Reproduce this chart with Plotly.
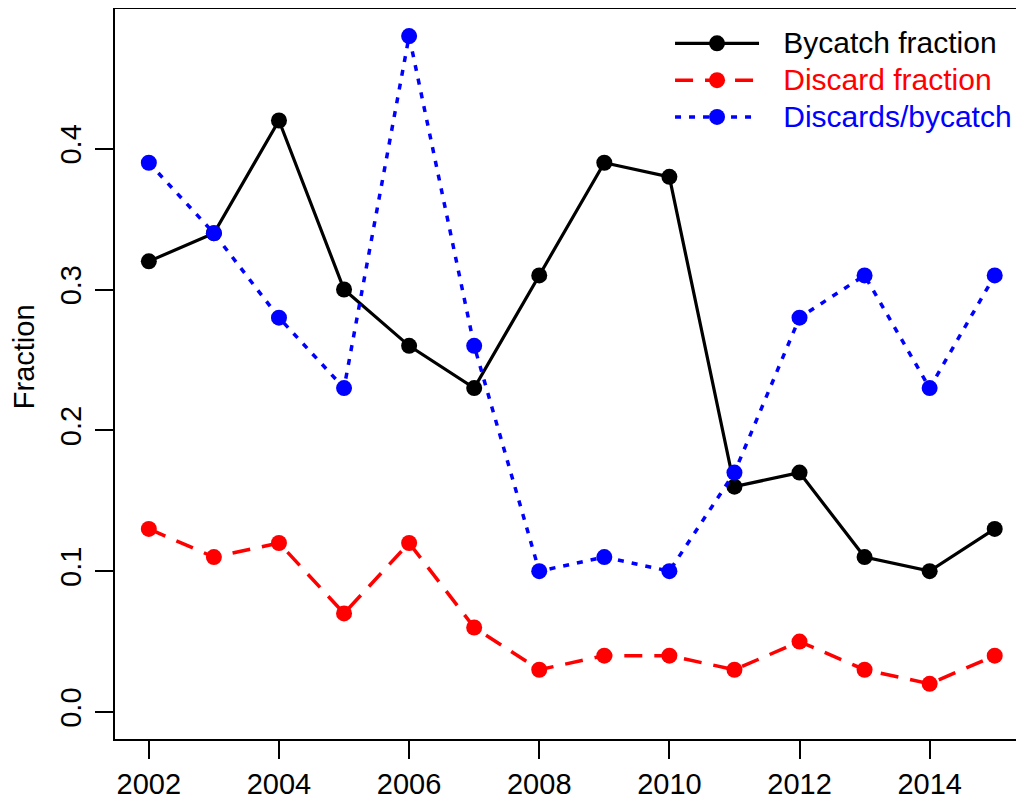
import plotly.graph_objects as go

years = [2002, 2003, 2004, 2005, 2006, 2007, 2008, 2009, 2010, 2011, 2012, 2013, 2014, 2015]
bycatch_fraction = [0.32, 0.34, 0.42, 0.30, 0.26, 0.23, 0.31, 0.39, 0.38, 0.16, 0.17, 0.11, 0.10, 0.13]
discard_fraction = [0.13, 0.11, 0.12, 0.07, 0.12, 0.06, 0.03, 0.04, 0.04, 0.03, 0.05, 0.03, 0.02, 0.04]
discards_per_bycatch = [0.39, 0.34, 0.28, 0.23, 0.48, 0.26, 0.10, 0.11, 0.10, 0.17, 0.28, 0.31, 0.23, 0.31]

x_ticks = [2002, 2004, 2006, 2008, 2010, 2012, 2014]
y_ticks = [0.0, 0.1, 0.2, 0.3, 0.4]
y_tick_labels = ["0.0", "0.1", "0.2", "0.3", "0.4"]

FONT = "Liberation Sans, Arial, Helvetica, sans-serif"
GAP = "\u00a0\u00a0\u200a"
BLACK, RED, BLUE = "#000000", "#ff0000", "#0000ff"


def legend_label(s, color):
    return "<span style='font-size:30px;color:" + color + "'>" + GAP + s + "</span>"


fig = go.Figure()
fig.add_trace(go.Scatter(
    x=years, y=bycatch_fraction, name=legend_label("Bycatch fraction", BLACK), mode="lines+markers",
    line=dict(color=BLACK, width=3.2, dash="solid"),
    marker=dict(color=BLACK, size=16),
))
fig.add_trace(go.Scatter(
    x=years, y=discard_fraction, name=legend_label("Discard fraction", RED), mode="lines+markers",
    line=dict(color=RED, width=3.5, dash="18px,12px"),
    marker=dict(color=RED, size=16),
))
fig.add_trace(go.Scatter(
    x=years, y=discards_per_bycatch, name=legend_label("Discards/bycatch", BLUE), mode="lines+markers",
    line=dict(color=BLUE, width=3.5, dash="6px,8px"),
    marker=dict(color=BLUE, size=16),
))

fig.update_layout(
    width=1016, height=792,
    margin=dict(l=107, r=0, t=1, b=61),
    paper_bgcolor="white", plot_bgcolor="white",
    font=dict(family=FONT, size=29, color="black"),
    showlegend=True,
    legend=dict(
        x=0.6106, y=0.985, xanchor="left", yanchor="top",
        bgcolor="rgba(0,0,0,0)", borderwidth=0,
        font=dict(family=FONT, size=26),
        itemwidth=84, tracegroupgap=0,
    ),
    xaxis=dict(
        range=[2001.48, 2015.45],
        tickvals=x_ticks, ticktext=[str(v) for v in x_ticks],
        showgrid=False, zeroline=False, automargin=False,
        showline=True, linecolor="black", linewidth=2, mirror=True,
        ticks="outside", ticklen=18, tickwidth=2, tickcolor="black",
        ticklabelstandoff=0,
        tickfont=dict(family=FONT, size=29),
    ),
    yaxis=dict(
        range=[-0.0192, 0.4992],
        tickvals=y_ticks, ticktext=y_tick_labels,
        showgrid=False, zeroline=False, automargin=False,
        showline=True, linecolor="black", linewidth=2, mirror=False,
        ticks="outside", ticklen=18, tickwidth=2, tickcolor="black",
        tickangle=-90, ticklabelstandoff=2,
        tickfont=dict(family=FONT, size=29),
    ),
    annotations=[dict(
        text="Fraction", xref="paper", yref="paper",
        x=-0.1001, y=0.523, xanchor="center", yanchor="middle",
        textangle=-90, showarrow=False,
        font=dict(family=FONT, size=29, color="black"),
    )],
)

fig.write_html("out.html")
